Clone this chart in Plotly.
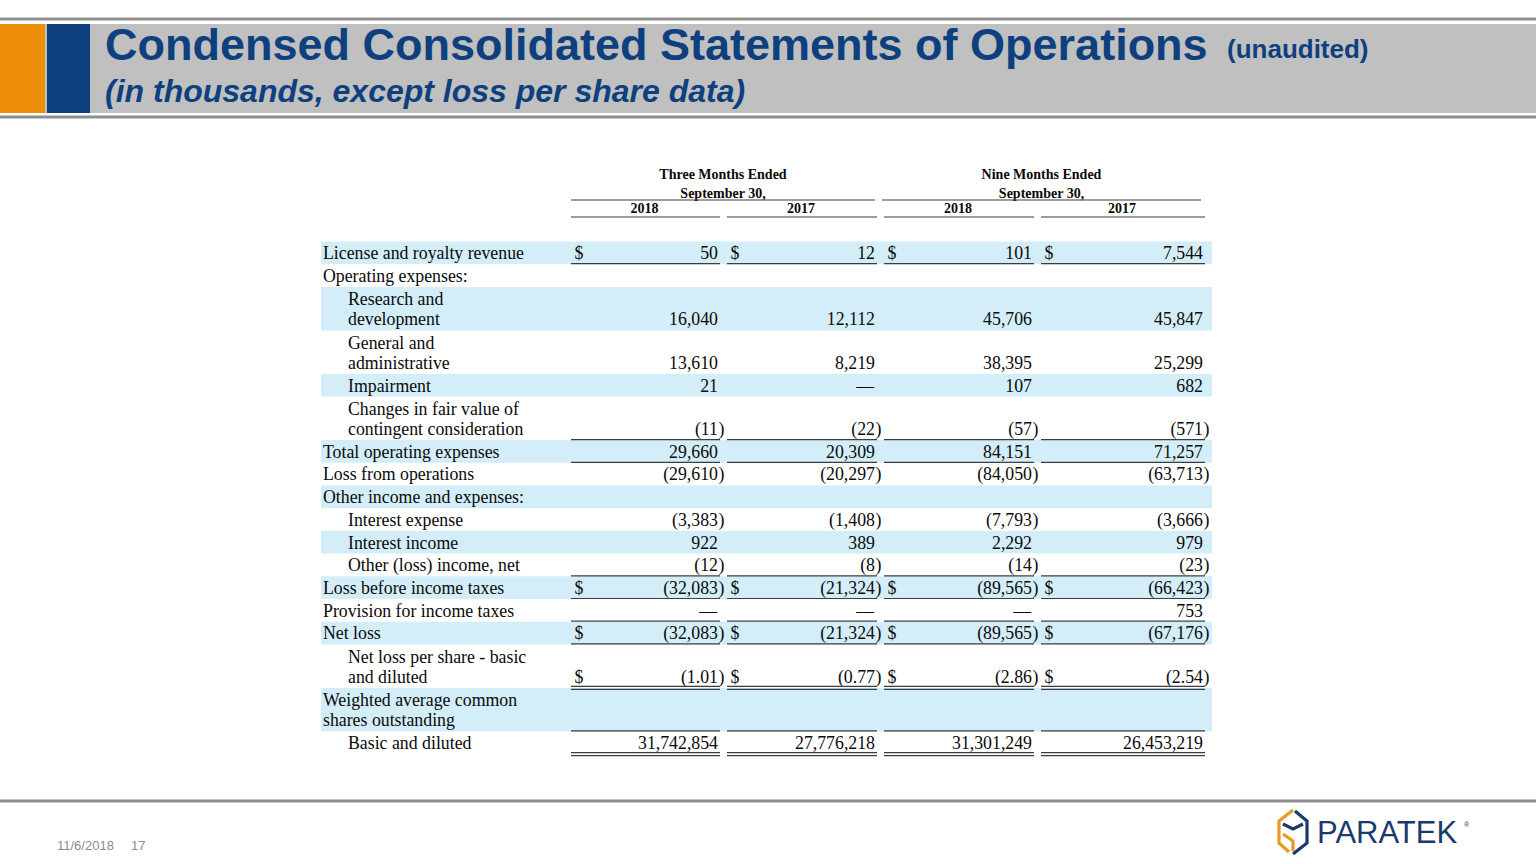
import plotly.graph_objects as go

# ---------------- data ----------------
row_labels = [
    "License and royalty revenue",
    "Operating expenses:",
    "Research and<br>development",
    "General and<br>administrative",
    "Impairment",
    "Changes in fair value of<br>contingent consideration",
    "Total operating expenses",
    "Loss from operations",
    "Other income and expenses:",
    "Interest expense",
    "Interest income",
    "Other (loss) income, net",
    "Loss before income taxes",
    "Provision for income taxes",
    "Net loss",
    "Net loss per share - basic<br>and diluted",
    "Weighted average common<br>shares outstanding",
    "Basic and diluted",
]
row_indent = [0, 0, 1, 1, 1, 1, 0, 0, 0, 1, 1, 1, 0, 0, 0, 1, 0, 1]
row_dollar = [1, 0, 0, 0, 0, 0, 0, 0, 0, 0, 0, 0, 1, 0, 1, 1, 0, 0]
row_decimals = [0, 0, 0, 0, 0, 0, 0, 0, 0, 0, 0, 0, 0, 0, 0, 2, 0, 0]
row_underline = [1, 0, 0, 0, 0, 1, 1, 0, 0, 0, 0, 1, 1, 1, 1, 2, 1, 2]

three_2018 = [50, None, 16040, 13610, 21, -11, 29660, -29610, None, -3383, 922, -12,
              -32083, 0, -32083, -1.01, None, 31742854]
three_2017 = [12, None, 12112, 8219, 0, -22, 20309, -20297, None, -1408, 389, -8,
              -21324, 0, -21324, -0.77, None, 27776218]
nine_2018 = [101, None, 45706, 38395, 107, -57, 84151, -84050, None, -7793, 2292, -14,
             -89565, 0, -89565, -2.86, None, 31301249]
nine_2017 = [7544, None, 45847, 25299, 682, -571, 71257, -63713, None, -3666, 979, -23,
             -66423, 753, -67176, -2.54, None, 26453219]
columns = [three_2018, three_2017, nine_2018, nine_2017]

period_groups = ["Three Months Ended<br>September 30,", "Nine Months Ended<br>September 30,"]
years = ["2018", "2017", "2018", "2017"]

title_text = "Condensed Consolidated Statements of Operations"
title_note = "(unaudited)"
subtitle_text = "(in thousands, except loss per share data)"
footer_date = "11/6/2018"
footer_page = "17"
logo_text = "PARATEK"

# ---------------- layout constants ----------------
W, H = 1536, 864
SERIF = "Liberation Serif, Times New Roman, serif"
SANS = "Liberation Sans, Arial, sans-serif"
NAVY = "#0E3F7E"
SHADE = "#D3EEF9"
LINE = "#3C3C3C"
TXT = "#0A0A0A"
FS = 17.8

col_left = [571, 727, 884, 1041]
col_right = [718, 875, 1032, 1203]
label_x = [323, 348]
top0 = 241.5
h_single = 22.7
h_extra = 20.8
line_gap = 20.2
text_off = 9.5

row_lines = [len(l.split("<br>")) for l in row_labels]
tops, bottoms = [], []
y = top0
for n in row_lines:
    tops.append(y)
    y += h_single + (n - 1) * h_extra
    bottoms.append(y)

fig = go.Figure()
shapes = []

# header band
shapes.append(dict(type="line", x0=0, x1=W, y0=19, y1=19, line=dict(color="#8E8E8E", width=3)))
shapes.append(dict(type="rect", x0=0, x1=W, y0=24, y1=113, fillcolor="#C0C0C0", line=dict(width=0)))
shapes.append(dict(type="line", x0=0, x1=W, y0=117, y1=117, line=dict(color="#8E8E8E", width=3)))
shapes.append(dict(type="rect", x0=0, x1=45, y0=24, y1=113, fillcolor="#EE8E0B", line=dict(width=0)))
shapes.append(dict(type="rect", x0=47, x1=90, y0=24, y1=113, fillcolor="#0E3F7E", line=dict(width=0)))
deco = [((582, 45), (615, 30)), ((600, 88), (684, 108)), ((740, 102), (800, 84)),
        ((1018, 64), (1018, 100)), ((1122, 40), (1205, 100)), ((1357, 40), (1357, 112)),
        ((1450, 74), (1530, 40)), ((1450, 94), (1512, 112))]
for (a, b) in deco:
    shapes.append(dict(type="line", x0=a[0], y0=a[1], x1=b[0], y1=b[1],
                       line=dict(color="#A6A6A6", width=1.2), layer="below"))

# footer line
shapes.append(dict(type="line", x0=0, x1=W, y0=801, y1=801, line=dict(color="#8E8E8E", width=3)))

# row shading
for i in range(len(row_labels)):
    if i % 2 == 0:
        shapes.append(dict(type="rect", x0=321, x1=1212, y0=tops[i], y1=bottoms[i],
                           fillcolor=SHADE, line=dict(width=0), layer="below"))

# header lines
shapes.append(dict(type="line", x0=col_left[0], x1=col_right[1], y0=200, y1=200, line=dict(color=LINE, width=1.2)))
shapes.append(dict(type="line", x0=col_left[2] - 2, x1=col_right[3] - 2, y0=200, y1=200, line=dict(color=LINE, width=1.2)))
for c in range(4):
    shapes.append(dict(type="line", x0=col_left[c], x1=col_right[c] + 2, y0=217, y1=217,
                       line=dict(color=LINE, width=1.2)))

# row underlines
for i, u in enumerate(row_underline):
    if u == 0:
        continue
    ys = [bottoms[i] - 0.5] if u == 1 else [bottoms[i] - 1.5, bottoms[i] + 1.5]
    for c in range(4):
        for yy in ys:
            shapes.append(dict(type="line", x0=col_left[c], x1=col_right[c] + 2, y0=yy, y1=yy,
                               line=dict(color=LINE, width=1.2)))

# logo hexagon
cx, cy = 1293, 832
hx, hy = 14, 22
top = (cx, cy - hy); ur = (cx + hx, cy - hy / 2); lr = (cx + hx, cy + hy / 2)
bot = (cx, cy + hy); ll = (cx - hx, cy + hy / 2); ul = (cx - hx, cy - hy / 2)
def P(*pts):
    return "M " + " L ".join(f"{p[0]},{p[1]}" for p in pts)
shapes.append(dict(type="path", path=P(top, ul, ll, (cx - 4, cy + hy - 2)), line=dict(color="#E89A24", width=3.2)))
shapes.append(dict(type="path", path=P((cx - hx + 4, cy + 2), (cx, cy + 9), (cx, cy + hy - 3)), line=dict(color="#E89A24", width=3.2)))
shapes.append(dict(type="path", path=P((cx + 2, cy - hy + 1), ur, lr, bot), line=dict(color="#1B3A6B", width=3.2)))
shapes.append(dict(type="path", path=P((cx - hx + 4, cy - hy / 2 + 3), (cx, cy - 3), (cx + hx - 4, cy - hy / 2 + 3)), line=dict(color="#1B3A6B", width=3.2)))

# ---------------- text traces ----------------
lx, ly, lt = [], [], []
for i, lab in enumerate(row_labels):
    parts = lab.split("<br>")
    for k, part in enumerate(parts):
        lx.append(label_x[row_indent[i]])
        ly.append(bottoms[i] - text_off - line_gap * (len(parts) - 1 - k))
        lt.append(part)
fig.add_trace(go.Scatter(x=lx, y=ly, text=lt, mode="text", textposition="middle right",
                         textfont=dict(family=SERIF, size=FS, color=TXT),
                         hoverinfo="skip", showlegend=False))

def fmt(v, d):
    if v == 0:
        return "\u2014"
    s = f"{abs(v):,.{d}f}"
    return "(" + s if v < 0 else s

for c, vals in enumerate(columns):
    xs, ys, ts, px, py = [], [], [], [], []
    for i, v in enumerate(vals):
        if v is None:
            continue
        xs.append(col_right[c] if v != 0 else col_right[c] - 1)
        ys.append(bottoms[i] - text_off)
        ts.append(fmt(v, row_decimals[i]))
        if v < 0:
            px.append(col_right[c] + 0.5)
            py.append(bottoms[i] - text_off)
    fig.add_trace(go.Scatter(x=xs, y=ys, text=ts, mode="text", textposition="middle left",
                             textfont=dict(family=SERIF, size=FS, color=TXT),
                             hoverinfo="skip", showlegend=False))
    fig.add_trace(go.Scatter(x=px, y=py, text=[")"] * len(px), mode="text", textposition="middle right",
                             textfont=dict(family=SERIF, size=FS, color=TXT),
                             hoverinfo="skip", showlegend=False))
    dx = [col_left[c] + 3.5 for i in range(len(vals)) if row_dollar[i]]
    dy = [bottoms[i] - text_off for i in range(len(vals)) if row_dollar[i]]
    fig.add_trace(go.Scatter(x=dx, y=dy, text=["$"] * len(dx), mode="text", textposition="middle right",
                             textfont=dict(family=SERIF, size=FS, color=TXT),
                             hoverinfo="skip", showlegend=False))

# column headers
fig.add_trace(go.Scatter(
    x=[(col_left[0] + col_right[1]) / 2, (col_left[2] + col_right[3]) / 2 - 2],
    y=[185, 185], text=period_groups, mode="text", textposition="middle center",
    textfont=dict(family=SERIF, size=14, color=TXT, weight="bold"), hoverinfo="skip", showlegend=False))
fig.add_trace(go.Scatter(
    x=[(col_left[c] + col_right[c]) / 2 for c in range(4)], y=[209.5] * 4,
    text=years, mode="text", textposition="middle center",
    textfont=dict(family=SERIF, size=14, color=TXT, weight="bold"), hoverinfo="skip", showlegend=False))

# ---------------- annotations (title, footer, logo) ----------------
ann = [
    dict(x=104, y=44, text=f"<b>{title_text}</b>", xanchor="left", yanchor="middle",
         font=dict(family=SANS, size=45, color=NAVY)),
    dict(x=1226, y=49, text=f"<b>{title_note}</b>", xanchor="left", yanchor="middle",
         font=dict(family=SANS, size=26, color=NAVY)),
    dict(x=104, y=91, text=f"<b><i>{subtitle_text}</i></b>", xanchor="left", yanchor="middle",
         font=dict(family=SANS, size=32, color=NAVY)),
    dict(x=56, y=845, text=footer_date, xanchor="left", yanchor="middle",
         font=dict(family=SANS, size=13, color="#8C8C8C")),
    dict(x=130, y=845, text=footer_page, xanchor="left", yanchor="middle",
         font=dict(family=SANS, size=13, color="#8C8C8C")),
    dict(x=1316, y=832, text=logo_text, xanchor="left", yanchor="middle",
         font=dict(family=SANS, size=31, color="#1B3A6B")),
    dict(x=1463, y=824, text="®", xanchor="left", yanchor="middle",
         font=dict(family=SANS, size=7, color="#1B3A6B")),
]
for a in ann:
    a.update(xref="x", yref="y", showarrow=False, borderpad=0)

fig.update_layout(
    width=W, height=H, margin=dict(l=0, r=0, t=0, b=0),
    paper_bgcolor="white", plot_bgcolor="white",
    xaxis=dict(range=[0, W], visible=False, fixedrange=True),
    yaxis=dict(range=[H, 0], visible=False, fixedrange=True),
    shapes=shapes, annotations=ann, showlegend=False,
)

fig.write_html("out.html", config={"displayModeBar": False},
               post_script="document.body.style.margin='0';document.body.style.overflow='hidden';")
